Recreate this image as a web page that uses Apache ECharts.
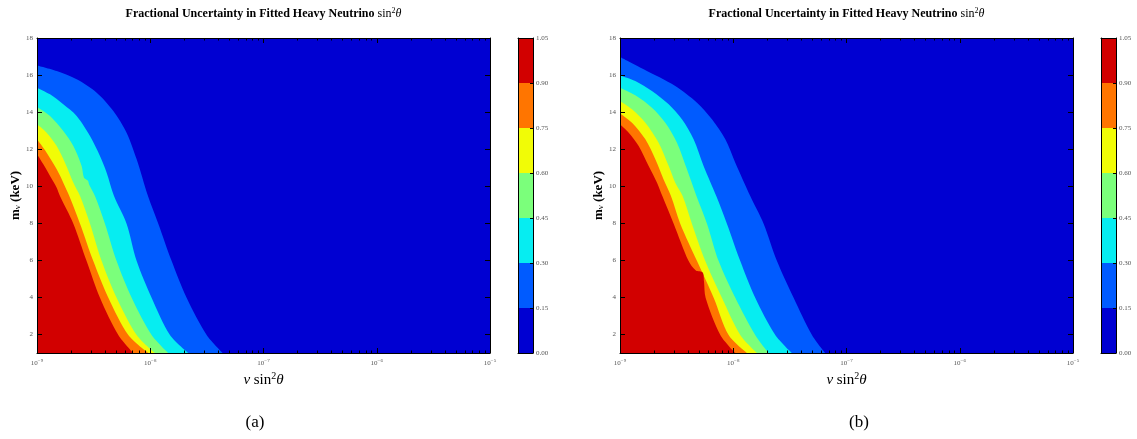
<!DOCTYPE html>
<html><head><meta charset="utf-8">
<script src="https://cdn.jsdelivr.net/npm/echarts@6/dist/echarts.min.js"></script>
<style>html,body{margin:0;padding:0;background:#fff}#c{width:1137px;height:439px}</style>
</head><body><div id="c"></div>
<script>
// ---- data ----
const xMajorExp = [-9, -8, -7, -6, -5];          // x ticks are 10^e
const yTicks = [2, 4, 6, 8, 10, 12, 14, 16, 18];
const levels = [0, 0.15, 0.30, 0.45, 0.60, 0.75, 0.90, 1.05];
const levelLabels = ['0.00', '0.15', '0.30', '0.45', '0.60', '0.75', '0.90', '1.05'];
const levelColors = ['#0000d2', '#005bff', '#06edf1', '#7bff7b', '#f1fc06', '#ff7500', '#d20000'];
const panelLabels = ['(a)', '(b)'];

// contour boundaries: [log10(nu sin^2 theta), m_nu (keV)]
// panel (a)
const a_015 = [[-9.0,16.52],[-8.826,16.22],[-8.65,15.77],[-8.473,15.05],[-8.326,14.06],[-8.209,12.89],[-8.12,11.45],[-8.02,9.47],[-7.929,7.98],[-7.811,5.96],[-7.679,3.98],[-7.502,1.97],[-7.361,1.0]];
const a_030 = [[-9.0,15.32],[-8.885,14.96],[-8.768,14.42],[-8.65,13.79],[-8.532,12.71],[-8.444,11.63],[-8.385,10.73],[-8.32,9.47],[-8.209,7.98],[-8.12,5.96],[-7.988,3.98],[-7.826,1.97],[-7.664,1.0]];
const a_045 = [[-9.0,14.28],[-8.885,13.79],[-8.768,12.98],[-8.679,12.17],[-8.606,11.09],[-8.585,10.46],[-8.55,10.3],[-8.54,10.1],[-8.488,9.47],[-8.40,7.98],[-8.297,5.96],[-8.164,3.98],[-7.988,1.97],[-7.841,1.0]];
const a_060 = [[-9.0,13.34],[-8.915,12.89],[-8.826,12.17],[-8.753,11.27],[-8.679,10.19],[-8.62,9.47],[-8.532,7.98],[-8.429,5.96],[-8.297,3.98],[-8.12,1.97],[-7.959,1.0]];
const a_075 = [[-9.0,12.53],[-8.915,11.81],[-8.826,10.91],[-8.768,10.19],[-8.715,9.47],[-8.62,7.98],[-8.503,5.96],[-8.37,3.98],[-8.194,1.97],[-8.017,1.0]];
const a_090 = [[-9.0,11.72],[-8.944,11.18],[-8.885,10.55],[-8.826,9.92],[-8.797,9.47],[-8.679,7.98],[-8.562,5.96],[-8.444,3.98],[-8.282,1.97],[-8.15,1.0]];
// panel (b)
const b_015 = [[-9.0,16.97],[-8.791,16.31],[-8.512,15.41],[-8.32,14.51],[-8.188,13.61],[-8.07,12.53],[-7.982,11.27],[-7.85,9.47],[-7.732,7.98],[-7.614,5.96],[-7.467,3.98],[-7.305,1.97],[-7.188,1.0]];
const b_030 = [[-9.0,15.98],[-8.865,15.68],[-8.718,15.14],[-8.57,14.42],[-8.453,13.61],[-8.35,12.53],[-8.262,11.09],[-8.15,9.47],[-8.056,7.98],[-7.938,5.96],[-7.806,3.98],[-7.629,1.97],[-7.482,1.0]];
const b_045 = [[-9.0,15.32],[-8.865,14.91],[-8.718,14.24],[-8.60,13.43],[-8.497,12.35],[-8.409,10.91],[-8.325,9.47],[-8.232,7.98],[-8.129,5.96],[-7.982,3.98],[-7.806,1.97],[-7.688,1.0]];
const b_060 = [[-9.0,14.6],[-8.894,14.15],[-8.776,13.43],[-8.659,12.35],[-8.57,11.09],[-8.512,10.19],[-8.447,9.47],[-8.365,7.98],[-8.247,5.96],[-8.10,3.98],[-7.938,1.97],[-7.791,1.0]];
const b_075 = [[-9.0,13.93],[-8.894,13.43],[-8.776,12.53],[-8.688,11.45],[-8.615,10.37],[-8.55,9.47],[-8.468,7.98],[-8.32,5.96],[-8.173,3.98],[-8.041,1.97],[-7.879,1.0]];
const b_090 = [[-9.0,13.34],[-8.923,12.89],[-8.835,12.17],[-8.747,11.09],[-8.673,10.19],[-8.626,9.47],[-8.526,7.98],[-8.394,5.96],[-8.33,5.45],[-8.27,5.35],[-8.258,4.85],[-8.244,3.98],[-8.114,1.97],[-7.982,1.0]];

const panelBounds = [[a_015, a_030, a_045, a_060, a_075, a_090], [b_015, b_030, b_045, b_060, b_075, b_090]];

// ---- layout ----
const SERIF = 'Liberation Serif';
const panelLeft = [37, 620];
const cbLeft = [518, 1101];
const TOP = 38, H = 315, W = 453, CBW = 15;

const xMajor = xMajorExp.map(e => Math.pow(10, e));
const xMinor = [];
for (let i = 0; i < xMajorExp.length - 1; i++) for (let k = 2; k <= 9; k++) xMinor.push(k * Math.pow(10, xMajorExp[i]));
const xMin = xMajor[0], xMax = xMajor[xMajor.length - 1];
const toPts = arr => arr.map(p => [Math.pow(10, p[0]), p[1]]);

const supSign = e => (e < 0 ? '\u2212' : '') + Math.abs(e);

const grids = [], xAxes = [], yAxes = [], series = [], graphics = [];
const tickColor = '#000';
const labelColor = '#555';

for (let p = 0; p < 2; p++) {
  grids.push({ left: panelLeft[p], top: TOP, width: W, height: H, show: true, backgroundColor: levelColors[0], borderWidth: 0 });
}
for (let p = 0; p < 2; p++) {
  grids.push({ left: cbLeft[p], top: TOP, width: CBW, height: H, show: false });
}

for (let p = 0; p < 2; p++) {
  const g = p;
  const logBase = { type: 'log', logBase: 10, min: xMin, max: xMax, gridIndex: g, splitLine: { show: false }, z: 10 };
  xAxes.push(Object.assign({}, logBase, {
    position: 'bottom',
    axisLine: { show: true, onZero: false, lineStyle: { color: '#000', width: 1 } },
    axisTick: { show: true, inside: true, length: 5, customValues: xMajor, lineStyle: { color: tickColor } },
    axisLabel: {
      show: true, customValues: xMajor, margin: 5, color: labelColor, fontFamily: SERIF, fontSize: 7,
      formatter: v => { const e = Math.round(Math.log10(v)); return '10{s|' + supSign(e) + '}'; },
      rich: { s: { fontSize: 5, fontFamily: SERIF, color: labelColor, verticalAlign: 'top', padding: [0, 0, 5, 0] } }
    },
    name: '{i|\u03bd} {n|sin}{s|2}{i|\u03b8}', nameLocation: 'middle', nameGap: 11,
    nameTextStyle: {
      fontFamily: SERIF, fontSize: 14, color: '#000',
      rich: {
        i: { fontFamily: SERIF, fontStyle: 'italic', fontSize: 15, color: '#000' },
        n: { fontFamily: SERIF, fontSize: 15, color: '#000' },
        s: { fontFamily: SERIF, fontSize: 10, color: '#000', verticalAlign: 'top', padding: [0, 0, 8, 0] }
      }
    }
  }));
  xAxes.push(Object.assign({}, logBase, {
    position: 'bottom', axisLine: { show: false },
    axisTick: { show: true, inside: true, length: 2.5, customValues: xMinor, lineStyle: { color: tickColor } },
    axisLabel: { show: false }
  }));
  xAxes.push(Object.assign({}, logBase, {
    position: 'top',
    axisLine: { show: true, onZero: false, lineStyle: { color: '#000', width: 1 } },
    axisTick: { show: true, inside: true, length: 5, customValues: xMajor, lineStyle: { color: tickColor } },
    axisLabel: { show: false }
  }));
  xAxes.push(Object.assign({}, logBase, {
    position: 'top', axisLine: { show: false },
    axisTick: { show: true, inside: true, length: 2.5, customValues: xMinor, lineStyle: { color: tickColor } },
    axisLabel: { show: false }
  }));

  yAxes.push({
    type: 'value', min: 1, max: 18, gridIndex: g, position: 'left', z: 10,
    splitLine: { show: false },
    axisLine: { show: true, onZero: false, lineStyle: { color: '#000', width: 1 } },
    axisTick: { show: true, inside: true, length: 5, customValues: yTicks, lineStyle: { color: tickColor } },
    axisLabel: { show: true, customValues: yTicks, margin: 4, color: labelColor, fontFamily: SERIF, fontSize: 7 },
    name: '{b|m}{u|\u03bd}{b| (keV)}', nameLocation: 'middle', nameGap: 15, nameRotate: 90,
    nameTextStyle: {
      fontFamily: SERIF, fontSize: 13, color: '#000',
      rich: {
        b: { fontFamily: SERIF, fontWeight: 'bold', fontSize: 13, color: '#000' },
        u: { fontFamily: SERIF, fontSize: 9, color: '#000', verticalAlign: 'bottom', padding: [4, 0, 0, 0] }
      }
    }
  });
  yAxes.push({
    type: 'value', min: 1, max: 18, gridIndex: g, position: 'right', z: 10,
    splitLine: { show: false },
    axisLine: { show: true, onZero: false, lineStyle: { color: '#000', width: 1 } },
    axisTick: { show: true, inside: true, length: 5, customValues: yTicks, lineStyle: { color: tickColor } },
    axisLabel: { show: false }
  });

  const bounds = panelBounds[p];
  bounds.forEach((b, i) => {
    series.push({
      type: 'line', xAxisIndex: 4 * p, yAxisIndex: 2 * p,
      data: toPts(b), symbol: 'none', showSymbol: false, silent: true,
      smooth: 0.3,
      lineStyle: { width: 0, color: levelColors[i + 1] },
      itemStyle: { color: levelColors[i + 1] },
      areaStyle: { color: levelColors[i + 1], opacity: 1, origin: 'start' },
      z: 2 + i, animation: false
    });
  });
}

for (let p = 0; p < 2; p++) {
  const g = 2 + p;
  xAxes.push({ type: 'category', data: [''], gridIndex: g, position: 'bottom', z: 10,
    axisLine: { show: true, onZero: false, lineStyle: { color: '#000' } }, axisTick: { show: false }, axisLabel: { show: false } });
  xAxes.push({ type: 'category', data: [''], gridIndex: g, position: 'top', z: 10,
    axisLine: { show: true, onZero: false, lineStyle: { color: '#000' } }, axisTick: { show: false }, axisLabel: { show: false } });
  yAxes.push({ type: 'value', min: levels[0], max: levels[levels.length - 1], gridIndex: g, position: 'right', z: 10,
    splitLine: { show: false },
    axisLine: { show: true, onZero: false, lineStyle: { color: '#000' } },
    axisTick: { show: true, inside: true, length: 3, customValues: levels, lineStyle: { color: '#000' } },
    axisLabel: { show: true, customValues: levels, margin: 3, color: labelColor, fontFamily: SERIF, fontSize: 7,
      formatter: v => { let k = 0, best = 1e9; levels.forEach((l, j) => { if (Math.abs(l - v) < best) { best = Math.abs(l - v); k = j; } }); return levelLabels[k]; } }
  });
  yAxes.push({ type: 'value', min: levels[0], max: levels[levels.length - 1], gridIndex: g, position: 'left', z: 10,
    splitLine: { show: false }, axisLine: { show: true, onZero: false, lineStyle: { color: '#000' } },
    axisTick: { show: false }, axisLabel: { show: false } });
  for (let i = 0; i < levels.length - 1; i++) {
    series.push({
      type: 'bar', xAxisIndex: 8 + 2 * p, yAxisIndex: 4 + 2 * p, stack: 'cb' + p,
      data: [levels[i + 1] - levels[i]], barWidth: '100%', barCategoryGap: 0, silent: true,
      itemStyle: { color: levelColors[i] }, animation: false
    });
  }
}

for (let p = 0; p < 2; p++) {
  const cx = panelLeft[p] + W / 2;
  graphics.push({
    type: 'text', x: cx, y: 14, silent: true,
    style: {
      text: '{b|Fractional Uncertainty in Fitted Heavy Neutrino }{n|sin}{s|2}{i|\u03b8}',
      align: 'center', verticalAlign: 'middle',
      rich: {
        b: { fontFamily: SERIF, fontWeight: 'bold', fontSize: 12, fill: '#000' },
        n: { fontFamily: SERIF, fontSize: 12, fill: '#000' },
        i: { fontFamily: SERIF, fontStyle: 'italic', fontSize: 12, fill: '#000' },
        s: { fontFamily: SERIF, fontSize: 8, fill: '#000', verticalAlign: 'top', padding: [0, 0, 6, 0] }
      }
    }
  });
  graphics.push({
    type: 'text', x: p === 0 ? 255 : 859, y: 423, silent: true,
    style: { text: panelLabels[p], align: 'center', verticalAlign: 'middle', fontFamily: SERIF, fontSize: 17, fill: '#000' }
  });
}

const chart = echarts.init(document.getElementById('c'), null, { renderer: 'canvas' });
chart.setOption({
  animation: false,
  backgroundColor: '#fff',
  grid: grids, xAxis: xAxes, yAxis: yAxes, series: series,
  graphic: { elements: graphics }
});
</script>
</body></html>
